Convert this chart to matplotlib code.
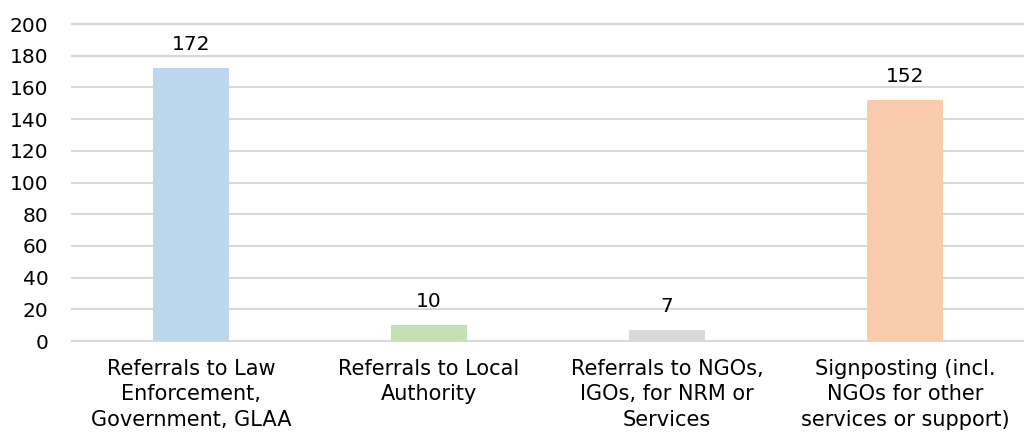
import matplotlib
matplotlib.use("Agg")
import matplotlib.pyplot as plt

categories = ["Referrals to Law\nEnforcement,\nGovernment, GLAA",
              "Referrals to Local\nAuthority",
              "Referrals to NGOs,\nIGOs, for NRM or\nServices",
              "Signposting (incl.\nNGOs for other\nservices or support)"]
values = [172, 10, 7, 152]
colors = ["#BDD7EE", "#C5E0B4", "#D9D9D9", "#F8CBAD"]
yticks = [0, 20, 40, 60, 80, 100, 120, 140, 160, 180, 200]

plt.rcParams['font.family'] = ['DejaVu Sans']
fig = plt.figure(figsize=(10.24, 4.42), dpi=100)
ax = fig.add_axes([0.0703, 0.2285, 0.9297, 0.7172])

x = range(len(categories))
bars = ax.bar(x, values, width=0.32, color=colors, zorder=2)
for b, v in zip(bars, values):
    ax.text(b.get_x() + b.get_width() / 2, v + 9, str(v), ha='center', va='bottom',
            fontsize=14.5, color='#000000')

ax.set_xlim(-0.5, len(categories) - 0.5)
ax.set_ylim(0, 200)
ax.set_yticks(yticks)
ax.set_yticklabels([str(t) for t in yticks], fontsize=14.5)
ax.set_xticks(list(x))
ax.set_xticklabels(categories, fontsize=15, linespacing=1.33)
ax.grid(axis='y', color='#D9D9D9', linewidth=1.5, zorder=0)
for gl in ax.get_ygridlines():
    gl.set_clip_on(False)
for s in ax.spines.values():
    s.set_visible(False)
ax.tick_params(axis='both', length=0)
ax.tick_params(axis='y', pad=17)
ax.tick_params(axis='x', pad=13)

fig.savefig("out.png", dpi=100)
